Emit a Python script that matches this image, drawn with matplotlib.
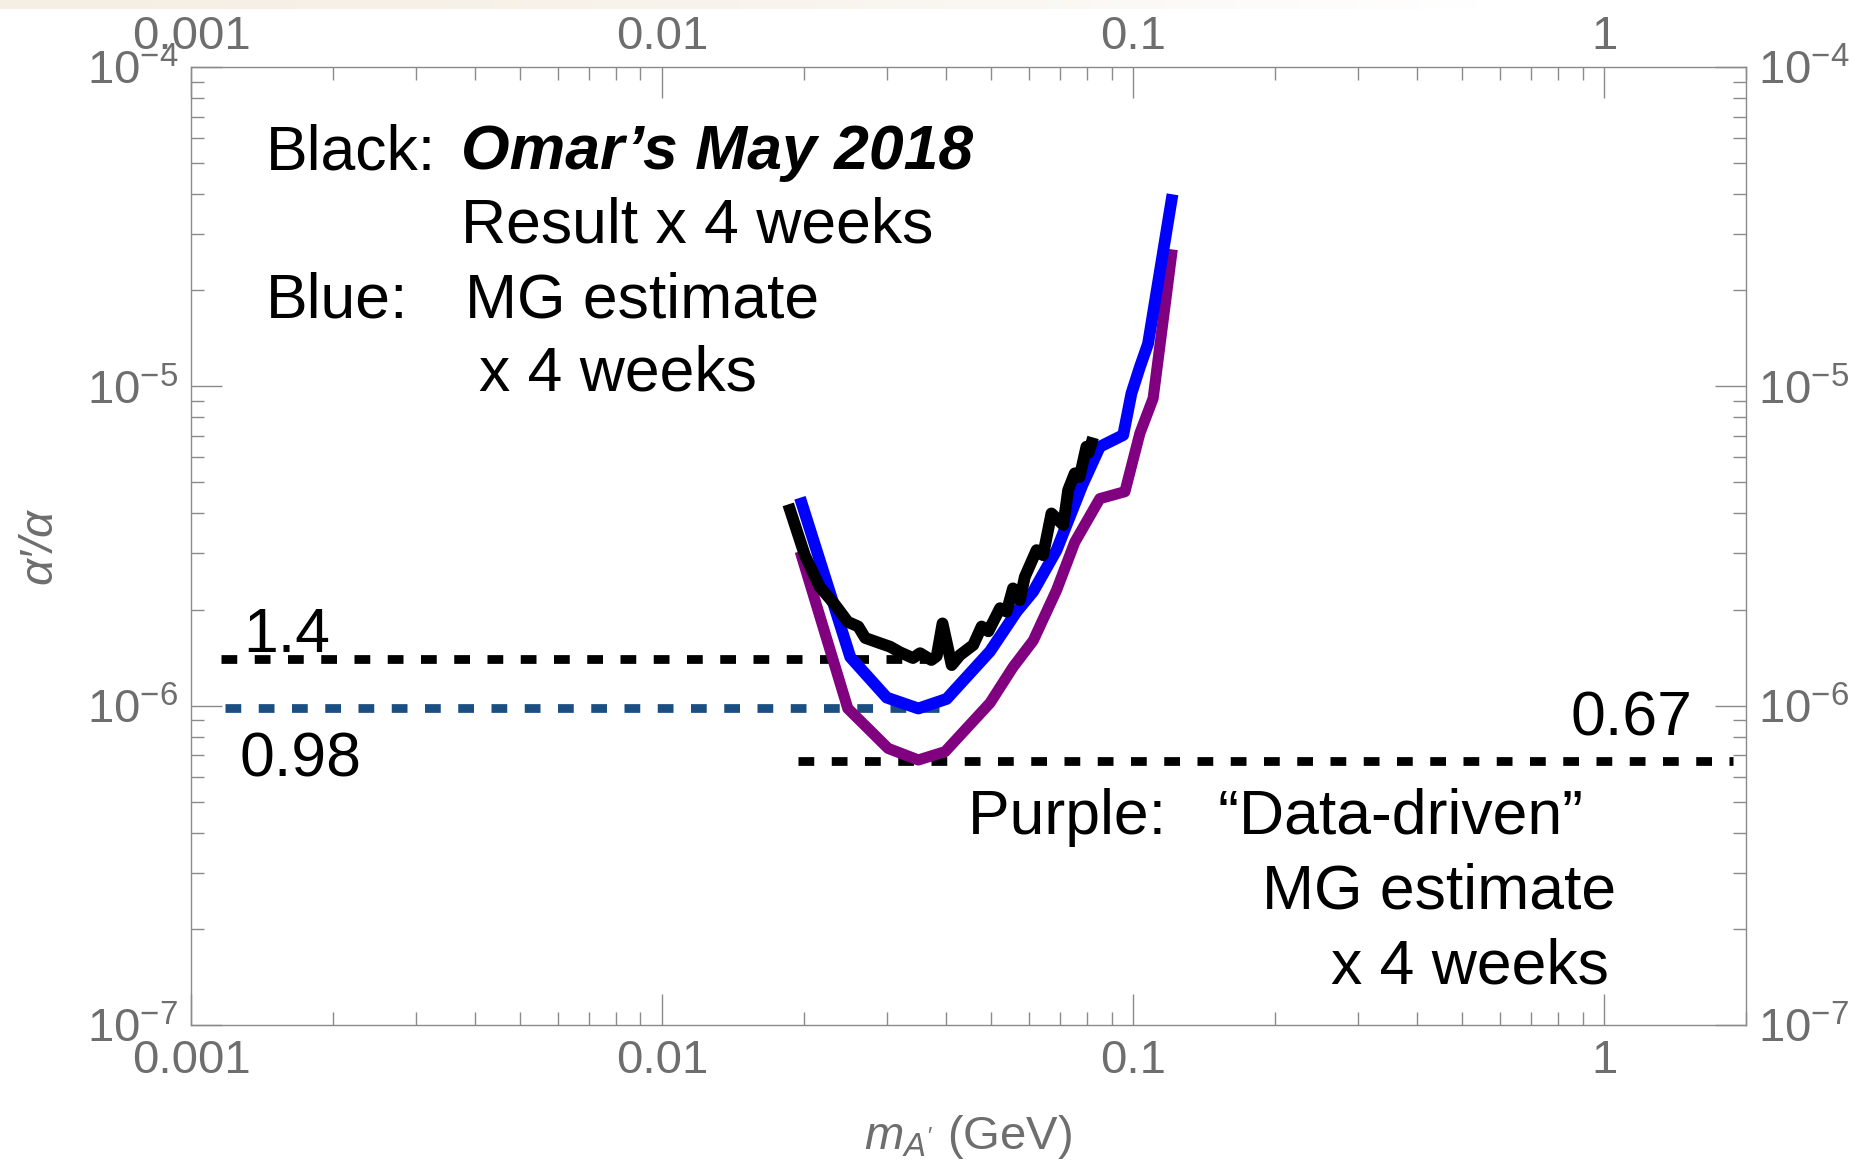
import numpy as np
import matplotlib
matplotlib.use("Agg")
import matplotlib.pyplot as plt
from matplotlib.ticker import FixedLocator, FixedFormatter, LogLocator, LogFormatterSciNotation, NullFormatter

plt.rcParams['font.family'] = ['Liberation Sans', 'DejaVu Sans']
plt.rcParams['mathtext.fontset'] = 'custom'
plt.rcParams['mathtext.rm'] = 'Liberation Sans'
plt.rcParams['mathtext.it'] = 'Liberation Sans:italic'
plt.rcParams['mathtext.bf'] = 'Liberation Sans:bold'

# Black: Omar's May 2018 result x 4 weeks (y in units of 1e-6)
black_x = [0.0187, 0.0201, 0.0216, 0.0233, 0.0248, 0.0261, 0.0270, 0.0290, 0.0305, 0.0320,
           0.0341, 0.0353, 0.0373, 0.0383, 0.0394, 0.0412, 0.0429, 0.0458, 0.0477, 0.0493,
           0.0522, 0.0539, 0.0556, 0.0575, 0.0589, 0.0624, 0.0644, 0.0671, 0.0711, 0.0728,
           0.0752, 0.0770, 0.0796, 0.0805, 0.0816]
black_y = [4.10, 2.96, 2.36, 2.07, 1.83, 1.77, 1.63, 1.57, 1.53, 1.47,
           1.41, 1.46, 1.39, 1.43, 1.81, 1.34, 1.44, 1.55, 1.77, 1.71,
           2.02, 1.97, 2.33, 2.14, 2.53, 3.07, 2.96, 4.00, 3.68, 4.73,
           5.34, 5.20, 6.47, 6.20, 6.64]

# Blue: MG estimate x 4 weeks
blue_x = [0.0198, 0.0251, 0.0300, 0.0350, 0.0402, 0.0497, 0.0566, 0.0614, 0.0688, 0.0780,
          0.0850, 0.0953, 0.0992, 0.1034, 0.1076, 0.1207]
blue_y = [4.30, 1.42, 1.06, 0.98, 1.05, 1.48, 1.97, 2.28, 3.07, 4.90,
          6.47, 7.04, 9.5, 11.5, 13.6, 38.3]

# Purple: "Data-driven" MG estimate x 4 weeks
purple_x = [0.0198, 0.0248, 0.0302, 0.0350, 0.0399, 0.0497, 0.0556, 0.0614, 0.0688, 0.0752,
            0.0850, 0.0961, 0.1034, 0.1103, 0.1207]
purple_y = [2.93, 0.98, 0.735, 0.676, 0.718, 1.02, 1.32, 1.60, 2.30, 3.25,
            4.45, 4.68, 7.13, 9.17, 25.8]

# reference levels (value in 1e-6, x start, x end)
ref_vals = [1.4, 0.98, 0.67]
ref_x0 = [0.00116, 0.00118, 0.0194]
ref_x1 = [0.040, 0.040, 1.88]
ref_colors = ['black', '#1b4f82', 'black']

x_ticks = [0.001, 0.01, 0.1, 1]
x_labels = ['0.001', '0.01', '0.1', '1']
y_ticks = [1e-7, 1e-6, 1e-5, 1e-4]

gray = '#6e6e6e'
spine_gray = '#8a8a8a'

fig = plt.figure(figsize=(18.54, 11.62), dpi=100)

# faint slide strip at the very top, fading out to the right
strip = fig.add_axes([0, 0.992, 0.80, 0.008])
grad = np.linspace(0, 1, 256)[None, :]
strip.imshow(grad, aspect='auto', cmap=matplotlib.colors.LinearSegmentedColormap.from_list(
    'strip', ['#f5eee2', '#f8f3ec', '#ffffff']))
strip.axis('off')

ax = fig.add_axes([0.1030, 0.1179, 0.8387, 0.8244])
ax.set_xscale('log')
ax.set_yscale('log')
ax.set_xlim(0.001, 2.0)
ax.set_ylim(1e-7, 1e-4)

# dashed reference lines
for v, a, b, c in zip(ref_vals, ref_x0, ref_x1, ref_colors):
    ax.plot([a, b], [v * 1e-6, v * 1e-6], color=c, lw=6.3, dashes=(1.8, 2.0),
            solid_capstyle='butt', dash_capstyle='butt', zorder=2)

ax.plot(black_x, np.array(black_y) * 1e-6, color='black', lw=8.5, zorder=4)
ax.plot(purple_x, np.array(purple_y) * 1e-6, color='#800080', lw=8, zorder=3)
ax.plot(blue_x, np.array(blue_y) * 1e-6, color='#0000ff', lw=8.5, zorder=3.5)

# axes styling
for s in ax.spines.values():
    s.set_color(spine_gray)
    s.set_linewidth(1.0)

ax.xaxis.set_major_locator(FixedLocator(x_ticks))
ax.xaxis.set_major_formatter(FixedFormatter(x_labels))
ax.xaxis.set_minor_locator(LogLocator(base=10, subs=np.arange(2, 10)))
ax.xaxis.set_minor_formatter(NullFormatter())
ax.yaxis.set_major_locator(FixedLocator(y_ticks))
ax.yaxis.set_major_formatter(LogFormatterSciNotation())
ax.yaxis.set_minor_locator(LogLocator(base=10, subs=np.arange(2, 10)))
ax.yaxis.set_minor_formatter(NullFormatter())

ax.tick_params(which='both', direction='in', color=spine_gray, width=1.0,
               top=True, right=True, labelcolor=gray, labelsize=34)
ax.tick_params(which='major', length=22)
ax.tick_params(which='minor', length=9.5)
ax.tick_params(axis='x', pad=10)
ax.tick_params(axis='y', pad=9)

# labels on top and right side
secx = ax.secondary_xaxis('top')
secx.xaxis.set_major_locator(FixedLocator(x_ticks))
secx.xaxis.set_major_formatter(FixedFormatter(x_labels))
secx.xaxis.set_minor_locator(LogLocator(base=10, subs=np.arange(2, 10)))
secx.xaxis.set_minor_formatter(NullFormatter())
secx.tick_params(which='both', length=0, labelcolor=gray, labelsize=34, pad=6)
secx.spines['top'].set_visible(False)

secy = ax.secondary_yaxis('right')
secy.yaxis.set_major_locator(FixedLocator(y_ticks))
secy.yaxis.set_major_formatter(LogFormatterSciNotation())
secy.yaxis.set_minor_formatter(NullFormatter())
secy.tick_params(which='both', length=0, labelcolor=gray, labelsize=34, pad=9)
secy.spines['right'].set_visible(False)

ax.set_xlabel(r"$m_{A'}$ (GeV)", fontsize=34, color=gray, labelpad=22)
ax.set_ylabel("α′/α", fontsize=34, color=gray, style='italic', labelpad=18)

# annotations
tk = dict(transform=ax.transAxes, fontsize=45, color='black')
ax.text(0.0482, 0.8935, "Black:", **tk)
ax.text(0.1736, 0.8935, "Omar’s May 2018", fontweight='bold', fontstyle='italic', **tk)
ax.text(0.1736, 0.8173, "Result x 4 weeks", **tk)
ax.text(0.0482, 0.7390, "Blue:", **tk)
ax.text(0.1762, 0.7390, "MG estimate", **tk)
ax.text(0.1852, 0.6628, "x 4 weeks", **tk)
ax.text(0.0334, 0.3894, "1.4", **tk)
ax.text(0.0315, 0.2589, "0.98", **tk)
ax.text(0.9653, 0.3027, "0.67", ha='right', **tk)
ax.text(0.4997, 0.1994, "Purple:   “Data-driven”", **tk)
ax.text(0.9164, 0.1211, "MG estimate", ha='right', **tk)
ax.text(0.9119, 0.0428, "x 4 weeks", ha='right', **tk)

fig.savefig("out.png", dpi=100)
